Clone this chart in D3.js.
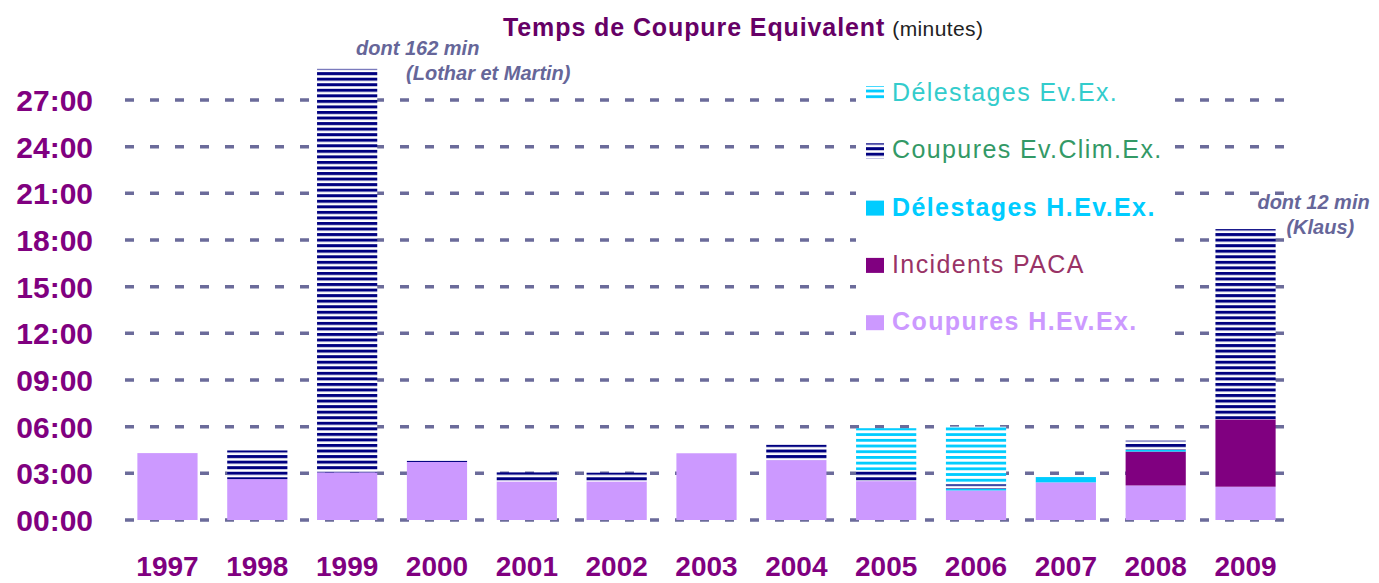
<!DOCTYPE html>
<html>
<head>
<meta charset="utf-8">
<script src="https://cdn.jsdelivr.net/npm/d3@7"></script>
<style>
  html, body { margin: 0; padding: 0; background: #fff; }
  svg { display: block; font-family: "Liberation Sans", Arial, sans-serif; }
</style>
</head>
<body>
<div id="chart"></div>
<script>
// --- Data (minutes) ---
const years = ["1997", "1998", "1999", "2000", "2001", "2002", "2003", "2004", "2005", "2006", "2007", "2008", "2009"];
const coupuresHEvEx    = [4.3, 2.63, 3.06, 3.73, 2.48, 2.48, 4.29, 3.85, 2.5, 1.9, 2.42, 2.22, 2.14];
const incidentsPaca    = [0, 0, 0, 0, 0, 0, 0, 0, 0, 0, 0, 2.18, 4.33];
const delestagesHEvEx  = [0, 0, 0, 0, 0, 0, 0, 0, 0, 0.1, 0.34, 0.1, 0];
const coupuresEvClimEx = [0, 1.84, 25.94, 0.08, 0.58, 0.56, 0, 0.98, 0.7, 0.3, 0, 0.6, 12.23];
const delestagesEvEx   = [0, 0, 0, 0, 0, 0, 0, 0, 2.7, 3.7, 0, 0, 0];
const yTicks = [0, 3, 6, 9, 12, 15, 18, 21, 24, 27];

const seriesNames = ["Coupures H.Ev.Ex.", "Incidents PACA", "Délestages H.Ev.Ex.", "Coupures Ev.Clim.Ex.", "Délestages Ev.Ex."];
const seriesValues = [coupuresHEvEx, incidentsPaca, delestagesHEvEx, coupuresEvClimEx, delestagesEvEx];

const notes = [
  { year: "1999", lines: ["dont 162 min", "(Lothar et Martin)"] },
  { year: "2009", lines: ["dont 12 min", "(Klaus)"] }
];

// --- Styles ---
const fills = {
  "Coupures H.Ev.Ex.": "#cc99ff",
  "Incidents PACA": "#800080",
  "Délestages H.Ev.Ex.": "#00ccff",
  "Coupures Ev.Clim.Ex.": "url(#navyStripes)",
  "Délestages Ev.Ex.": "url(#cyanStripes)"
};
const legendStyle = {
  "Délestages Ev.Ex.":    { color: "#33cccc", weight: "normal" },
  "Coupures Ev.Clim.Ex.": { color: "#339966", weight: "normal" },
  "Délestages H.Ev.Ex.":  { color: "#00ccff", weight: "bold" },
  "Incidents PACA":       { color: "#993366", weight: "normal" },
  "Coupures H.Ev.Ex.":    { color: "#cc99ff", weight: "bold" }
};

const W = 1379, H = 583;

const svg = d3.select("#chart").append("svg")
  .attr("width", W).attr("height", H);

// --- Patterns ---
const defs = svg.append("defs");
function stripes(id, color, period, thick) {
  const p = defs.append("pattern").attr("id", id)
    .attr("patternUnits", "userSpaceOnUse")
    .attr("width", 8).attr("height", period);
  p.append("rect").attr("width", 8).attr("height", period).attr("fill", "#fff");
  p.append("rect").attr("y", 0).attr("width", 8).attr("height", thick).attr("fill", color);
}
stripes("navyStripes", "#000080", 5.55, 3);
stripes("cyanStripes", "#00ccff", 5.7, 2.8);

// --- Scales ---
const x = d3.scaleBand().domain(years).range([123, 1290]).paddingInner(0.33).paddingOuter(0.16);
const y = d3.scaleLinear().domain([0, 27]).range([520, 100]);

// --- Grid ---
svg.append("g").selectAll("line")
  .data(yTicks).join("line")
  .attr("x1", 125).attr("x2", 1292)
  .attr("y1", d => y(d)).attr("y2", d => y(d))
  .attr("stroke", "#6b6b9a").attr("stroke-width", 3.5)
  .attr("stroke-dasharray", "9,16");

// --- Y labels ---
svg.append("g").selectAll("text")
  .data(yTicks).join("text")
  .attr("x", 93).attr("y", d => y(d) + 11)
  .attr("text-anchor", "end")
  .attr("fill", "#800080")
  .style("font-size", "30px").style("font-weight", "bold")
  .text(d => d3.format("02d")(d) + ":00");

// --- Stacked bars ---
const table = years.map((yr, i) => {
  const row = { year: yr };
  seriesNames.forEach((n, k) => row[n] = seriesValues[k][i]);
  return row;
});
const stacked = d3.stack().keys(seriesNames)(table);

svg.append("g").selectAll("g")
  .data(stacked).join("g")
  .attr("fill", s => fills[s.key])
  .selectAll("rect")
  .data(s => s.filter(d => d[1] - d[0] > 0))
  .join("rect")
  .attr("x", d => x(d.data.year))
  .attr("width", x.bandwidth())
  .attr("y", d => y(d[1]))
  .attr("height", d => y(d[0]) - y(d[1]));

// --- X labels ---
svg.append("g").selectAll("text")
  .data(years).join("text")
  .attr("x", d => x(d) + x.bandwidth() / 2)
  .attr("y", 576)
  .attr("text-anchor", "middle")
  .attr("fill", "#800080")
  .style("font-size", "28px").style("font-weight", "bold")
  .text(d => d);

// --- Title ---
const title = svg.append("text").attr("x", 503).attr("y", 36);
title.append("tspan").attr("fill", "#660066")
  .style("font-size", "25px").style("font-weight", "bold")
  .style("letter-spacing", "0.9px")
  .text("Temps de Coupure Equivalent");
title.append("tspan").attr("fill", "#222").attr("dx", 7)
  .style("font-size", "21px").style("letter-spacing", "0.4px")
  .text("(minutes)");

// --- Legend ---
const legendOrder = seriesNames.slice().reverse();
svg.append("rect")
  .attr("x", 856).attr("y", 72).attr("width", 316).attr("height", 272)
  .attr("fill", "#fff");
const legend = svg.append("g").attr("transform", "translate(866, 101)");
legendOrder.forEach((n, i) => {
  const g = legend.append("g").attr("transform", `translate(0, ${i * 57.3})`);
  g.append("rect").attr("x", 0).attr("y", -15).attr("width", 18).attr("height", 15)
    .attr("fill", fills[n]);
  g.append("text").attr("x", 26).attr("y", 0)
    .attr("fill", legendStyle[n].color)
    .style("font-size", "25px").style("font-weight", legendStyle[n].weight)
    .style("letter-spacing", "1.4px")
    .text(n);
});

// --- Notes ---
const totals = years.map((yr, i) => d3.sum(seriesValues, s => s[i]));
notes.forEach(nt => {
  const i = years.indexOf(nt.year);
  const top = y(totals[i]);
  const t = svg.append("text")
    .attr("fill", "#666699")
    .style("font-size", "20px").style("font-weight", "bold").style("font-style", "italic");
  if (nt.year === "1999") {
    t.append("tspan").attr("x", x(nt.year) + 39).attr("y", top - 14).text(nt.lines[0]);
    t.append("tspan").attr("x", x(nt.year) + 89).attr("y", top + 11).text(nt.lines[1]);
  } else {
    t.append("tspan").attr("x", x(nt.year) + 42).attr("y", top - 20).text(nt.lines[0]);
    t.append("tspan").attr("x", x(nt.year) + 71).attr("y", top + 5).text(nt.lines[1]);
  }
});
</script>
</body>
</html>
